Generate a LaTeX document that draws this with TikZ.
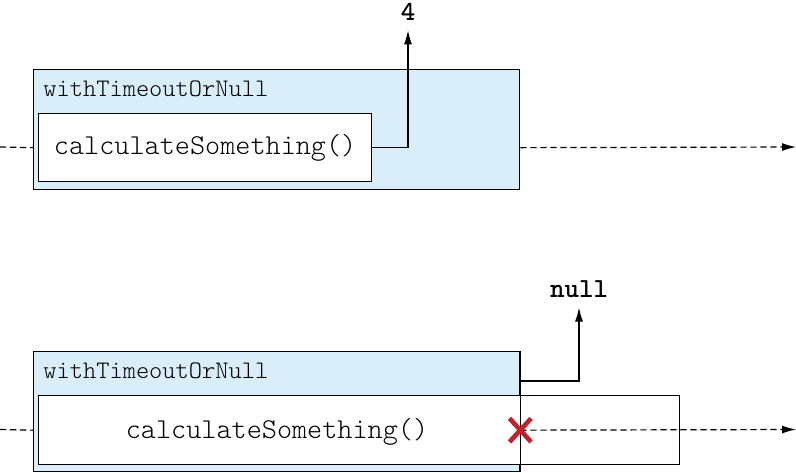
\documentclass[tikz,border=0pt]{standalone}
\usepackage{fontspec}
\setmonofont{lmmonolt10-regular}[Extension=.otf,BoldFont=lmmonolt10-bold]
\usetikzlibrary{arrows.meta,shapes.misc}

\definecolor{boxblue}{RGB}{217,238,248}
\definecolor{stopred}{RGB}{193,33,42}

\begin{document}
\begin{tikzpicture}[x=0.5pt,y=-0.5pt,line join=miter,>={Latex[length=7pt,width=4pt]},
    scopebox/.style={draw,fill=boxblue,line width=0.65pt,anchor=north west,inner sep=0pt,
        minimum width=243pt,minimum height=60pt},
    callbox/.style={draw,fill=white,line width=0.65pt,anchor=north west,inner sep=0pt,
        font=\ttfamily\fontsize{14.4}{16}\selectfont},
    calltext/.style={font=\ttfamily\fontsize{14.4}{16}\selectfont,inner sep=0pt},
    titletext/.style={anchor=west,inner sep=2pt,font=\ttfamily\fontsize{12.6}{14}\selectfont},
    valtext/.style={anchor=base,inner xsep=1pt,inner ysep=5pt,font=\ttfamily\bfseries\fontsize{13.8}{16}\selectfont},
    flow/.style={line width=0.6pt,dash pattern=on 3.2pt off 1.8pt},
    result/.style={line width=0.6pt},
    stopcross/.style={cross out,draw=stopred,line width=2.3pt,inner sep=0pt,minimum width=8.5pt,minimum height=9.5pt}]

\useasboundingbox (0,0) rectangle (796,472);

% with result
\node[scopebox] (scopeA) at (33,69) {};
\node[titletext] (nameA) at (39,89) {withTimeoutOrNull};
\node[callbox,minimum width=166.5pt,minimum height=34pt] (callA) at (38,113) {calculateSomething()};
\node[valtext] (valA) at (408,20) {4};
\coordinate (inA) at (0,147);
\coordinate (outA) at (796,147);
\draw[result,->] (callA.east) -| (valA.south);
\draw[flow] (inA) -- (scopeA.west |- callA.west);
\draw[flow,->] (scopeA.east |- callA.east) -- (outA);

% timed out
\node[scopebox] (scopeB) at (33,351) {};
\node[titletext] (nameB) at (39,371) {withTimeoutOrNull};
\node[callbox,minimum width=320.5pt,minimum height=34.5pt] (callB) at (38,395) {};
\draw[line width=0.65pt] (scopeB.north east) -- (scopeB.south east);
\node[calltext] (callTextB) at (277,432) {calculateSomething()};
\node[valtext] (valB) at (579,297) {null};
\coordinate (inB) at (0,429.5);
\coordinate (outB) at (796,429.5);
\draw[result,->] ([yshift=-15pt]scopeB.north east) -| (valB.south);
\draw[flow] (inB) -- (scopeB.west |- callB.west);
\draw[flow,->] (scopeB.east |- callB.east) -- (outB);
\node[stopcross] (stopB) at (scopeB.east |- callB.east) {};

\end{tikzpicture}
\end{document}
